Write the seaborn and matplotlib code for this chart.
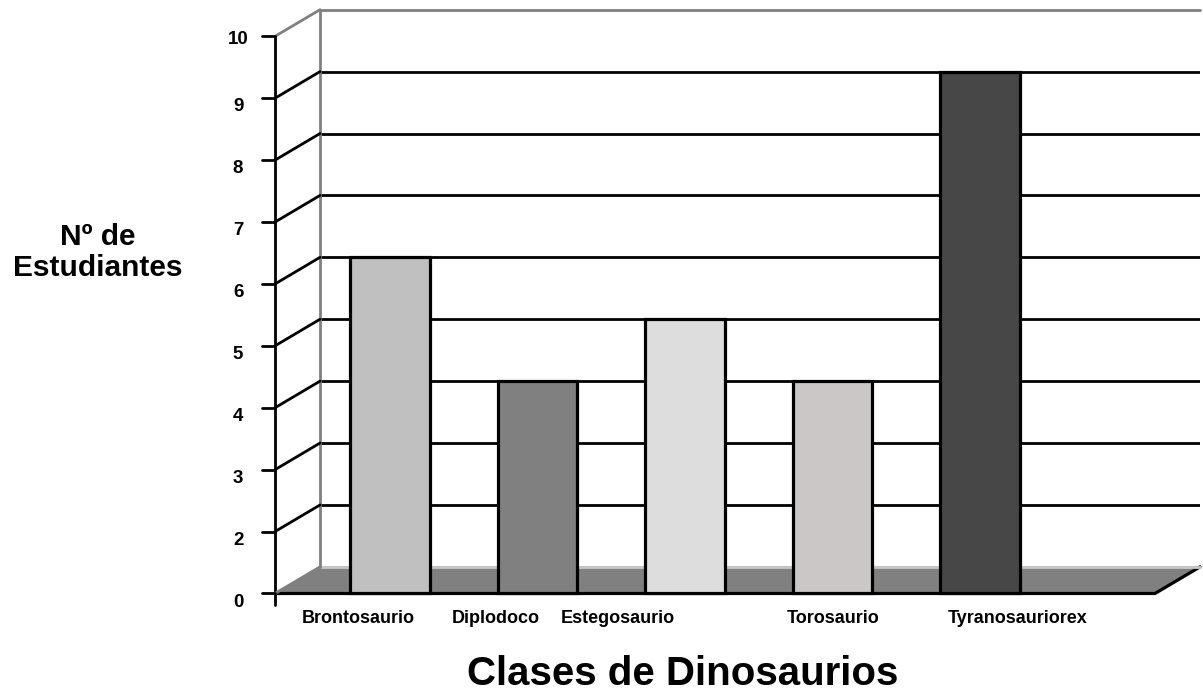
import numpy as np
import matplotlib
matplotlib.use("Agg")
import matplotlib.pyplot as plt
import seaborn as sns

dinosaurios = ['Brontosaurio', 'Diplodoco', 'Estegosaurio', 'Torosaurio', 'Tyranosauriorex']
estudiantes = [6, 4, 5, 4, 9]
colores = ['#C0C0C0', '#808080', '#DDDDDD', '#CBC7C7', '#474747']
marcas_y = [0, 2, 3, 4, 5, 6, 7, 8, 9, 10]


# el eje impreso salta el 1: cada etiqueta queda a un paso de la siguiente
def escala(v):
    v = np.asarray(v, dtype=float)
    return np.where(v < 2, v / 2, v - 1)


def escala_inv(p):
    p = np.asarray(p, dtype=float)
    return np.where(p < 1, p * 2, p + 1)


sns.set_theme(style="white")
plt.rcParams['font.family'] = ['Liberation Sans', 'DejaVu Sans']
plt.rcParams['font.weight'] = 'bold'
plt.rcParams['text.color'] = 'black'
plt.rcParams['axes.labelcolor'] = 'black'
plt.rcParams['xtick.color'] = 'black'

fig = plt.figure(figsize=(12.03, 6.93), dpi=100)
ax = fig.add_axes([0.266, 0.182, 0.7315, 0.804])
ax.set_yscale('function', functions=(escala, escala_inv))

sns.barplot(x=dinosaurios, y=estudiantes, hue=dinosaurios, palette=colores,
            legend=False, width=0.54, edgecolor='black', linewidth=2.3,
            saturation=1, ax=ax, zorder=5)

x0, x1 = -0.475, 5.49
ax.set_xlim(x0, x1)
ax.set_ylim(0, 10)

# profundidad del "3D" (frente respecto al fondo)
dx, dy = 0.305, 0.43
frente = x0 - dx
suelo = float(escala_inv(-dy))

# barras apoyadas en el borde delantero del suelo
for p in ax.patches:
    alto = p.get_y() + p.get_height()
    p.set_y(suelo)
    p.set_height(alto - suelo)
    p.set_clip_on(False)

# suelo gris
ax.fill([frente, x1 - dx, x1, x0], [suelo, suelo, 0, 0], color='#808080',
        zorder=1, clip_on=False)
ax.plot([frente, x1 - dx, x1], [suelo, suelo, 0], color='black', lw=2.3,
        zorder=2, clip_on=False)
ax.plot([x0, x1], [0, 0], color='#C8C8C8', lw=2, zorder=2, clip_on=False)

# lineas de la pared de fondo
ax.set_yticks(marcas_y[1:-1])
ax.grid(axis='y', color='black', lw=2)
ax.grid(axis='x', visible=False)
ax.plot([x0, x0, x1], [0, 10, 10], color='#808080', lw=2, zorder=2, clip_on=False)
for s in ax.spines.values():
    s.set_visible(False)
ax.tick_params(axis='y', left=False, labelleft=False)

# eje frontal con sus marcas
ax.plot([frente, frente], [escala_inv(-dy - 0.18), escala_inv(9 - dy)],
        color='black', lw=2, clip_on=False)
for k in marcas_y:
    pf = float(escala_inv(escala(k) - dy))
    color = '#808080' if k in (0, 10) else 'black'
    ax.plot([frente, x0], [pf, k], color=color, lw=2, clip_on=False)
    ax.plot([frente - 0.09, frente], [pf, pf], color='black', lw=2, clip_on=False)
    baja = 0.05 if k == 10 else 0.14
    ax.text(frente - 0.25, float(escala_inv(escala(k) - dy - baja)), str(k),
            ha='center', va='center', fontsize=13.5, fontweight='bold')

ax.set_xticks([-0.217, 0.719, 1.546, 3.003, 4.251], dinosaurios)
ax.tick_params(axis='x', length=0, pad=31, labelsize=13)

ax.set_ylabel('Nº de\nEstudiantes', fontsize=21.5, fontweight='bold',
              rotation=0, ha='center', va='center', linespacing=1.15)
ax.yaxis.set_label_coords(-0.252, 0.564)
ax.set_xlabel('Clases de Dinosaurios', fontsize=29, fontweight='bold')
ax.xaxis.set_label_coords(0.4125, -0.158)

fig.savefig('out.png', dpi=100)
